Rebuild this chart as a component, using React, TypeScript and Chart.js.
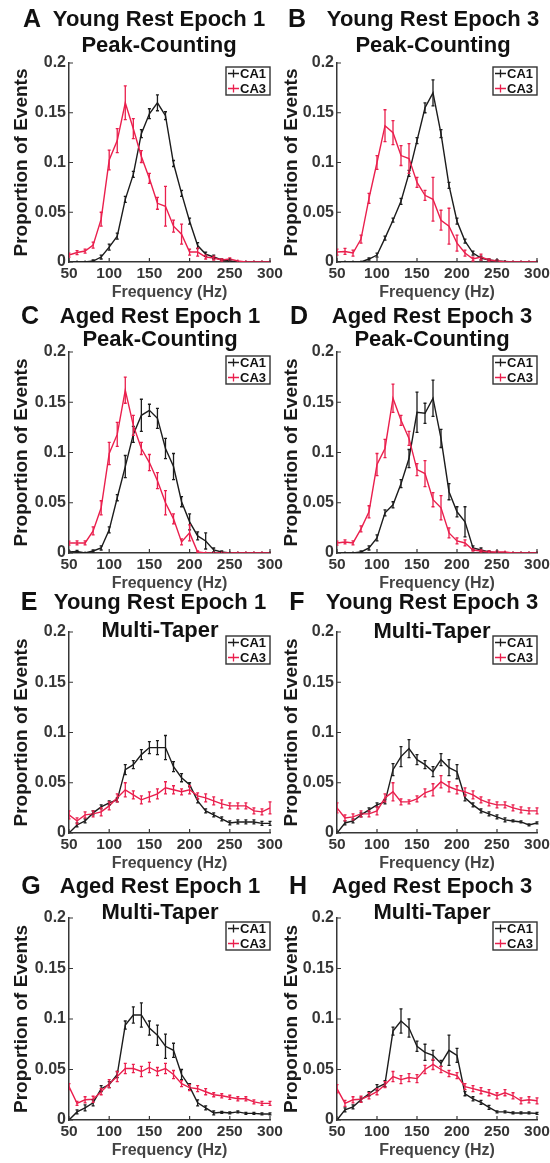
import React, { useEffect, useRef } from "react";
import { Chart, registerables } from "chart.js";

Chart.register(...registerables);

// ---------- data ----------
const FREQS = [50, 60, 70, 80, 90, 100, 110, 120, 130, 140, 150, 160, 170, 180, 190, 200, 210, 220, 230, 240, 250, 260, 270, 280, 290, 300];
const X_TICKS = [50, 100, 150, 200, 250, 300];
const Y_TICKS = [0, 0.05, 0.1, 0.15, 0.2];
const SERIES_NAMES = ["CA1", "CA3"];

// A: Young Rest Epoch 1, Peak-Counting
const A_CA1 = [0, 0, 0, 0.001, 0.005, 0.015, 0.026, 0.063, 0.088, 0.129, 0.149, 0.16, 0.147, 0.099, 0.069, 0.041, 0.0165, 0.008, 0.005, 0.002, 0.001, 0, 0, 0, 0, 0];
const A_CA1_ERR = [0, 0, 0, 0.001, 0.002, 0.003, 0.003, 0.003, 0.003, 0.004, 0.005, 0.008, 0.004, 0.003, 0.003, 0.003, 0.003, 0.002, 0.002, 0.001, 0.001, 0, 0, 0, 0, 0];
const A_CA3 = [0.007, 0.0095, 0.011, 0.017, 0.043, 0.1025, 0.122, 0.16, 0.134, 0.106, 0.084, 0.059, 0.056, 0.036, 0.028, 0.01, 0.01, 0.005, 0.004, 0.002, 0.003, 0.001, 0, 0, 0, 0];
const A_CA3_ERR = [0.002, 0.002, 0.002, 0.003, 0.007, 0.01, 0.012, 0.017, 0.01, 0.006, 0.005, 0.006, 0.02, 0.006, 0.01, 0.003, 0.004, 0.002, 0.002, 0.001, 0.001, 0, 0, 0, 0, 0];

// B: Young Rest Epoch 3, Peak-Counting
const B_CA1 = [0, 0, 0, 0, 0.003, 0.007, 0.024, 0.042, 0.061, 0.089, 0.122, 0.155, 0.17, 0.129, 0.077, 0.041, 0.021, 0.009, 0.004, 0.002, 0.001, 0.0005, 0, 0, 0, 0];
const B_CA1_ERR = [0, 0, 0, 0, 0.001, 0.002, 0.002, 0.002, 0.003, 0.003, 0.003, 0.005, 0.013, 0.004, 0.003, 0.003, 0.002, 0.002, 0.002, 0.001, 0.001, 0, 0, 0, 0, 0];
const B_CA3 = [0.01, 0.0106, 0.009, 0.023, 0.064, 0.1, 0.137, 0.13, 0.107, 0.104, 0.08, 0.067, 0.063, 0.042, 0.036, 0.019, 0.009, 0.003, 0.005, 0.002, 0.001, 0, 0, 0, 0, 0];
const B_CA3_ERR = [0.003, 0.003, 0.003, 0.004, 0.005, 0.007, 0.016, 0.012, 0.01, 0.015, 0.005, 0.005, 0.022, 0.01, 0.018, 0.008, 0.003, 0.002, 0.003, 0.001, 0.001, 0, 0, 0, 0, 0];

// C: Aged Rest Epoch 1, Peak-Counting
const C_CA1 = [0.001, 0.0015, 0, 0.002, 0.005, 0.023, 0.055, 0.086, 0.118, 0.137, 0.142, 0.134, 0.104, 0.086, 0.051, 0.031, 0.017, 0.012, 0.003, 0.001, 0, 0, 0, 0, 0, 0];
const C_CA1_ERR = [0.001, 0.001, 0, 0.001, 0.002, 0.003, 0.003, 0.011, 0.008, 0.016, 0.006, 0.01, 0.01, 0.013, 0.005, 0.008, 0.004, 0.008, 0.002, 0.001, 0, 0, 0, 0, 0, 0];
const C_CA3 = [0.0099, 0.01, 0.01, 0.022, 0.045, 0.099, 0.118, 0.162, 0.127, 0.104, 0.09, 0.072, 0.05, 0.034, 0.011, 0.02, 0.001, 0, 0, 0, 0, 0, 0, 0, 0, 0];
const C_CA3_ERR = [0.002, 0.002, 0.002, 0.004, 0.007, 0.011, 0.012, 0.013, 0.01, 0.006, 0.008, 0.008, 0.012, 0.005, 0.003, 0.008, 0.001, 0, 0, 0, 0, 0, 0, 0, 0, 0];

// D: Aged Rest Epoch 3, Peak-Counting
const D_CA1 = [0, 0, 0, 0.001, 0.005, 0.015, 0.04, 0.048, 0.069, 0.094, 0.14, 0.139, 0.154, 0.114, 0.061, 0.041, 0.031, 0.005, 0.003, 0.001, 0, 0, 0, 0, 0, 0];
const D_CA1_ERR = [0, 0, 0, 0.001, 0.002, 0.003, 0.003, 0.003, 0.004, 0.009, 0.02, 0.01, 0.018, 0.009, 0.008, 0.005, 0.015, 0.002, 0.002, 0.001, 0, 0, 0, 0, 0, 0];
const D_CA3 = [0.0099, 0.011, 0.01, 0.024, 0.041, 0.088, 0.104, 0.154, 0.132, 0.114, 0.083, 0.079, 0.053, 0.045, 0.02, 0.012, 0.01, 0.003, 0.002, 0.001, 0.001, 0.001, 0, 0, 0, 0];
const D_CA3_ERR = [0.002, 0.002, 0.002, 0.003, 0.006, 0.011, 0.009, 0.014, 0.005, 0.007, 0.006, 0.013, 0.007, 0.012, 0.005, 0.003, 0.003, 0.001, 0.001, 0.001, 0.001, 0, 0, 0, 0, 0];

// E: Young Rest Epoch 1, Multi-Taper
const E_CA1 = [0, 0.008, 0.012, 0.02, 0.026, 0.03, 0.033, 0.063, 0.068, 0.078, 0.085, 0.085, 0.085, 0.066, 0.055, 0.048, 0.032, 0.022, 0.018, 0.014, 0.01, 0.011, 0.011, 0.011, 0.0096, 0.0096];
const E_CA1_ERR = [0.001, 0.002, 0.002, 0.002, 0.002, 0.002, 0.002, 0.005, 0.004, 0.005, 0.006, 0.007, 0.012, 0.005, 0.004, 0.002, 0.002, 0.002, 0.002, 0.002, 0.002, 0.002, 0.002, 0.002, 0.002, 0.002];
const E_CA3 = [0.018, 0.012, 0.018, 0.019, 0.021, 0.027, 0.035, 0.043, 0.038, 0.033, 0.036, 0.039, 0.045, 0.043, 0.041, 0.043, 0.037, 0.035, 0.032, 0.029, 0.027, 0.027, 0.027, 0.022, 0.021, 0.025];
const E_CA3_ERR = [0.004, 0.003, 0.003, 0.003, 0.004, 0.004, 0.004, 0.007, 0.004, 0.004, 0.005, 0.005, 0.006, 0.004, 0.003, 0.004, 0.003, 0.004, 0.004, 0.004, 0.003, 0.003, 0.003, 0.003, 0.003, 0.006];

// F: Young Rest Epoch 3, Multi-Taper
const F_CA1 = [0, 0.01, 0.012, 0.018, 0.023, 0.028, 0.031, 0.063, 0.076, 0.084, 0.073, 0.068, 0.061, 0.073, 0.065, 0.061, 0.035, 0.028, 0.022, 0.019, 0.016, 0.013, 0.012, 0.011, 0.008, 0.01];
const F_CA1_ERR = [0.001, 0.002, 0.002, 0.002, 0.002, 0.002, 0.002, 0.006, 0.01, 0.009, 0.005, 0.004, 0.005, 0.006, 0.008, 0.007, 0.003, 0.002, 0.002, 0.002, 0.002, 0.002, 0.001, 0.001, 0.001, 0.001];
const F_CA3 = [0.025, 0.015, 0.016, 0.019, 0.019, 0.022, 0.035, 0.041, 0.031, 0.031, 0.034, 0.04, 0.043, 0.051, 0.046, 0.043, 0.041, 0.038, 0.033, 0.03, 0.028, 0.028, 0.025, 0.023, 0.022, 0.022];
const F_CA3_ERR = [0.005, 0.003, 0.003, 0.003, 0.003, 0.004, 0.004, 0.009, 0.003, 0.002, 0.003, 0.004, 0.006, 0.006, 0.005, 0.004, 0.004, 0.004, 0.003, 0.003, 0.003, 0.003, 0.003, 0.003, 0.003, 0.003];

// G: Aged Rest Epoch 1, Multi-Taper
const G_CA1 = [0, 0.008, 0.012, 0.017, 0.031, 0.035, 0.045, 0.094, 0.104, 0.104, 0.091, 0.084, 0.073, 0.069, 0.045, 0.033, 0.017, 0.012, 0.007, 0.0076, 0.007, 0.008, 0.0066, 0.0066, 0.006, 0.006];
const G_CA1_ERR = [0.001, 0.002, 0.003, 0.003, 0.003, 0.003, 0.003, 0.004, 0.008, 0.012, 0.007, 0.01, 0.012, 0.007, 0.005, 0.003, 0.003, 0.002, 0.002, 0.001, 0.001, 0.001, 0.001, 0.001, 0.001, 0.001];
const G_CA3 = [0.033, 0.0165, 0.02, 0.0205, 0.028, 0.036, 0.043, 0.051, 0.051, 0.048, 0.052, 0.048, 0.051, 0.045, 0.036, 0.032, 0.031, 0.028, 0.025, 0.024, 0.0225, 0.021, 0.021, 0.018, 0.0165, 0.0165];
const G_CA3_ERR = [0.003, 0.002, 0.003, 0.003, 0.003, 0.004, 0.005, 0.005, 0.004, 0.005, 0.005, 0.004, 0.005, 0.004, 0.003, 0.003, 0.003, 0.003, 0.002, 0.002, 0.002, 0.002, 0.002, 0.002, 0.002, 0.002];

// H: Aged Rest Epoch 3, Multi-Taper
const H_CA1 = [0, 0.01, 0.013, 0.02, 0.026, 0.032, 0.036, 0.088, 0.098, 0.091, 0.073, 0.067, 0.064, 0.056, 0.069, 0.064, 0.026, 0.021, 0.0175, 0.0125, 0.008, 0.008, 0.007, 0.007, 0.007, 0.0066];
const H_CA1_ERR = [0.001, 0.002, 0.002, 0.002, 0.002, 0.003, 0.003, 0.004, 0.012, 0.009, 0.005, 0.008, 0.005, 0.003, 0.015, 0.007, 0.002, 0.002, 0.002, 0.002, 0.001, 0.001, 0.001, 0.001, 0.001, 0.001];
const H_CA3 = [0.031, 0.0165, 0.02, 0.0205, 0.024, 0.028, 0.035, 0.043, 0.04, 0.042, 0.041, 0.05, 0.055, 0.05, 0.046, 0.044, 0.033, 0.031, 0.029, 0.027, 0.024, 0.027, 0.024, 0.019, 0.02, 0.019];
const H_CA3_ERR = [0.004, 0.003, 0.003, 0.003, 0.003, 0.003, 0.003, 0.005, 0.004, 0.004, 0.004, 0.004, 0.005, 0.003, 0.003, 0.003, 0.003, 0.003, 0.003, 0.003, 0.003, 0.003, 0.003, 0.003, 0.003, 0.003];

const PANELS = [
  { letter: "A", title: ["Young Rest Epoch 1", "Peak-Counting"], ca1: A_CA1, ca1Err: A_CA1_ERR, ca3: A_CA3, ca3Err: A_CA3_ERR },
  { letter: "B", title: ["Young Rest Epoch 3", "Peak-Counting"], ca1: B_CA1, ca1Err: B_CA1_ERR, ca3: B_CA3, ca3Err: B_CA3_ERR },
  { letter: "C", title: ["Aged Rest Epoch 1", "Peak-Counting"], ca1: C_CA1, ca1Err: C_CA1_ERR, ca3: C_CA3, ca3Err: C_CA3_ERR },
  { letter: "D", title: ["Aged Rest Epoch 3", "Peak-Counting"], ca1: D_CA1, ca1Err: D_CA1_ERR, ca3: D_CA3, ca3Err: D_CA3_ERR },
  { letter: "E", title: ["Young Rest Epoch 1", "Multi-Taper"], ca1: E_CA1, ca1Err: E_CA1_ERR, ca3: E_CA3, ca3Err: E_CA3_ERR },
  { letter: "F", title: ["Young Rest Epoch 3", "Multi-Taper"], ca1: F_CA1, ca1Err: F_CA1_ERR, ca3: F_CA3, ca3Err: F_CA3_ERR },
  { letter: "G", title: ["Aged Rest Epoch 1", "Multi-Taper"], ca1: G_CA1, ca1Err: G_CA1_ERR, ca3: G_CA3, ca3Err: G_CA3_ERR },
  { letter: "H", title: ["Aged Rest Epoch 3", "Multi-Taper"], ca1: H_CA1, ca1Err: H_CA1_ERR, ca3: H_CA3, ca3Err: H_CA3_ERR },
];

const X_LABEL = "Frequency (Hz)";
const Y_LABEL = "Proportion of Events";

// ---------- layout / style ----------
const PAGE_W = 550;
const PAGE_H = 1163;
const BOXES = [
  { l: 69, r: 270, t: 63, b: 262, letterX: 32, titleX: 159, t1: 20, t2: 46, ylabX: 21.5 },
  { l: 337, r: 537, t: 63, b: 262, letterX: 297, titleX: 433, t1: 20, t2: 46, ylabX: 291.5 },
  { l: 69, r: 270, t: 352, b: 553, letterX: 30, titleX: 160, t1: 317, t2: 340, ylabX: 21.5 },
  { l: 337, r: 537, t: 352, b: 553, letterX: 299, titleX: 432, t1: 317, t2: 340, ylabX: 291.5 },
  { l: 69, r: 270, t: 632, b: 833, letterX: 29, titleX: 160, t1: 603, t2: 631, ylabX: 21.5 },
  { l: 337, r: 537, t: 632, b: 833, letterX: 297, titleX: 432, t1: 603, t2: 632, ylabX: 291.5 },
  { l: 69, r: 270, t: 918, b: 1120, letterX: 31, titleX: 160, t1: 887, t2: 913, ylabX: 21.5 },
  { l: 337, r: 537, t: 918, b: 1120, letterX: 298, titleX: 432, t1: 887, t2: 913, ylabX: 291.5 },
];
const FONT = "'Liberation Sans', Arial, Helvetica, sans-serif";
const BLACK = "#1c1c1c";
const RED = "#ea1f4d";
const AXIS = "#363636";

const panelDecor = {
  id: "panelDecor",
  afterDatasetsDraw(chart: any) {
    const ctx = chart.ctx;
    const xs = chart.scales.x;
    const ys = chart.scales.y;
    ctx.save();
    const ca = chart.chartArea;
    ctx.beginPath();
    ctx.rect(ca.left, ca.top - 2, ca.right - ca.left + 2, ca.bottom - ca.top + 2);
    ctx.clip();
    for (const ds of chart.data.datasets) {
      const errs: number[] = ds.errors;
      ctx.strokeStyle = ds.borderColor;
      ctx.lineWidth = 1.3;
      ds.data.forEach((p: any, i: number) => {
        const e = errs[i];
        const px = xs.getPixelForValue(p.x);
        const py = ys.getPixelForValue(p.y);
        ctx.beginPath();
        if (e > 0) {
          const top = ys.getPixelForValue(p.y + e);
          const bot = ys.getPixelForValue(p.y - e);
          ctx.moveTo(px, top);
          ctx.lineTo(px, bot);
          ctx.moveTo(px - 1.5, top);
          ctx.lineTo(px + 1.5, top);
          ctx.moveTo(px - 1.5, bot);
          ctx.lineTo(px + 1.5, bot);
        }
        ctx.moveTo(px, py - 1.5);
        ctx.lineTo(px, py + 1.5);
        ctx.stroke();
      });
    }
    ctx.restore();
  },
  afterDraw(chart: any, _args: any, o: any) {
    const ctx = chart.ctx;
    const ca = chart.chartArea;
    const xs = chart.scales.x;
    const ys = chart.scales.y;
    ctx.save();
    // inward ticks
    ctx.strokeStyle = AXIS;
    ctx.lineWidth = 1.2;
    ctx.beginPath();
    for (const v of Y_TICKS) {
      const py = ys.getPixelForValue(v);
      ctx.moveTo(ca.left, py);
      ctx.lineTo(ca.left + 4, py);
    }
    for (const v of X_TICKS) {
      const px = xs.getPixelForValue(v);
      ctx.moveTo(px, ca.bottom);
      ctx.lineTo(px, ca.bottom - 4);
    }
    ctx.stroke();

    // titles
    ctx.fillStyle = "#111";
    ctx.textAlign = "center";
    ctx.textBaseline = "middle";
    ctx.font = `bold 25px ${FONT}`;
    ctx.fillText(o.letter, o.letterX, o.t1);
    ctx.font = `bold 22px ${FONT}`;
    ctx.fillText(o.title[0], o.titleX, o.t1);
    ctx.fillText(o.title[1], o.titleX, o.t2);

    // y label
    ctx.save();
    ctx.translate(o.ylabX, (ca.top + ca.bottom) / 2);
    ctx.rotate(-Math.PI / 2);
    ctx.font = `bold 19px ${FONT}`;
    ctx.fillStyle = "#1a1a1a";
    ctx.fillText(Y_LABEL, 0, 0);
    ctx.restore();

    // x label
    ctx.font = `bold 16px ${FONT}`;
    ctx.fillStyle = "#444444";
    ctx.fillText(X_LABEL, (ca.left + ca.right) / 2, ca.bottom + 31);

    // legend
    const w = 44;
    const h = 28;
    const lx = ca.right - w;
    const ly = ca.top + 4;
    ctx.fillStyle = "#ffffff";
    ctx.fillRect(lx, ly, w, h);
    ctx.strokeStyle = "#333";
    ctx.lineWidth = 1.4;
    ctx.strokeRect(lx, ly, w, h);
    ctx.font = `bold 13px ${FONT}`;
    ctx.textAlign = "left";
    chart.data.datasets.forEach((ds: any, i: number) => {
      const ry = ly + 6.5 + i * 15;
      ctx.strokeStyle = ds.borderColor;
      ctx.lineWidth = 1.3;
      ctx.beginPath();
      ctx.moveTo(lx + 2, ry);
      ctx.lineTo(lx + 13, ry);
      ctx.moveTo(lx + 7.5, ry - 4);
      ctx.lineTo(lx + 7.5, ry + 4);
      ctx.stroke();
      ctx.fillStyle = "#111";
      ctx.fillText(ds.label, lx + 14, ry + 0.5);
    });
    ctx.restore();
  },
};

function buildConfig(idx: number): any {
  const p = PANELS[idx];
  const b = BOXES[idx];
  const pts = (vals: number[]) => FREQS.map((f, i) => ({ x: f, y: vals[i] }));
  return {
    type: "line",
    data: {
      datasets: [
        { label: SERIES_NAMES[0], data: pts(p.ca1), errors: p.ca1Err, borderColor: BLACK, borderWidth: 1.4, pointRadius: 0, tension: 0, order: 1 },
        { label: SERIES_NAMES[1], data: pts(p.ca3), errors: p.ca3Err, borderColor: RED, borderWidth: 1.4, pointRadius: 0, tension: 0, order: 0 },
      ],
    },
    options: {
      responsive: false,
      animation: false,
      devicePixelRatio: 1,
      events: [],
      layout: { padding: { left: 0, right: PAGE_W - b.r, top: b.t, bottom: 0 } },
      plugins: {
        legend: { display: false },
        title: { display: false },
        tooltip: { enabled: false },
        panelDecor: { letter: p.letter, title: p.title, ...b },
      },
      scales: {
        x: {
          type: "linear",
          min: 50,
          max: 300,
          afterBuildTicks: (s: any) => {
            s.ticks = X_TICKS.map((v) => ({ value: v }));
          },
          ticks: { font: { family: FONT, size: 15.5, weight: "bold" }, color: AXIS, padding: 2, maxRotation: 0, autoSkip: false, callback: (v: any) => String(v) },
          grid: { display: false, drawTicks: false },
          border: { display: true, color: AXIS, width: 1.5 },
          afterFit: (s: any) => {
            s.height = PAGE_H - b.b;
            s.paddingLeft = 0;
            s.paddingRight = 0;
          },
        },
        y: {
          type: "linear",
          min: 0,
          max: 0.2,
          afterBuildTicks: (s: any) => {
            s.ticks = Y_TICKS.map((v) => ({ value: v }));
          },
          ticks: { font: { family: FONT, size: 16, weight: "bold" }, color: AXIS, padding: 3, autoSkip: false, callback: (v: any) => String(Math.round(v * 100) / 100) },
          grid: { display: false, drawTicks: false },
          border: { display: true, color: AXIS, width: 1.5 },
          afterFit: (s: any) => {
            s.width = b.l;
            s.paddingTop = 0;
            s.paddingBottom = 0;
          },
        },
      },
    },
    plugins: [panelDecor],
  };
}

function Panel({ idx }: { idx: number }) {
  const ref = useRef<HTMLCanvasElement>(null);
  useEffect(() => {
    const chart = new Chart(ref.current as HTMLCanvasElement, buildConfig(idx));
    return () => chart.destroy();
  }, [idx]);
  return (
    <canvas
      ref={ref}
      width={PAGE_W}
      height={PAGE_H}
      style={{ position: "absolute", left: 0, top: 0, width: PAGE_W, height: PAGE_H }}
    />
  );
}

export default function App() {
  return (
    <div style={{ position: "absolute", left: 0, top: 0, width: PAGE_W, height: PAGE_H, background: "#fff", overflow: "hidden" }}>
      {PANELS.map((_, i) => (
        <Panel key={i} idx={i} />
      ))}
    </div>
  );
}
